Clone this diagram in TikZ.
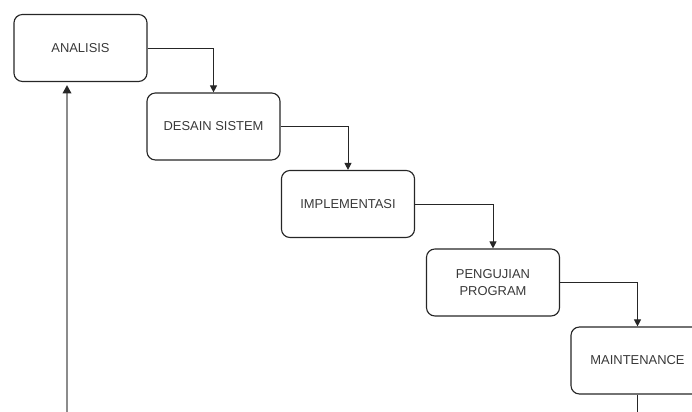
\documentclass[tikz,border=0pt]{standalone}
\usepackage{fontspec}
\setmainfont{Liberation Sans}
\usepackage{tikz}
\usetikzlibrary{arrows.meta}

\tikzset{
  stage/.style={draw=black!85, line width=0.8pt, rounded corners=6pt,
    minimum width=3.325cm, minimum height=1.675cm, align=center,
    font=\fontsize{9.2}{11.5}\selectfont, text=black!78},
  flow/.style={draw=black!85, line width=0.7pt, -{Triangle[length=5pt,width=5pt]}}
}

\begin{document}
\begin{tikzpicture}[x=0.025cm, y=-0.025cm]
        
        \useasboundingbox (0,0) rectangle (692,412);
        
        \node[stage] (analisis) at (80.5,48) {ANALISIS};
        \node[stage] (desain) at (213.5,126.5) {DESAIN SISTEM};
        \node[stage] (implementasi) at (348,204) {IMPLEMENTASI};
        \node[stage] (pengujian) at (493,282.5) {PENGUJIAN\\PROGRAM};
        \node[stage] (maintenance) at (637.5,360.5) {MAINTENANCE};
        
        \coordinate (keluar) at (637.5,414);
        \coordinate (balik) at (67,414);
        \coordinate (balikujung) at (67,85);
        
        \draw[flow] (analisis.east) -| (desain.north);
        \draw[flow] (desain.east) -| (implementasi.north);
        \draw[flow] (implementasi.east) -| (pengujian.north);
        \draw[flow] (pengujian.east) -| (maintenance.north);
        
        \draw[black!85, line width=0.7pt] (maintenance.south) -- (keluar);
        \draw[black!45, line width=1.6pt, -{Triangle[length=6pt,width=6pt,black!85]}] (balik) -- (balikujung);
        
        \end{tikzpicture}
\end{document}
